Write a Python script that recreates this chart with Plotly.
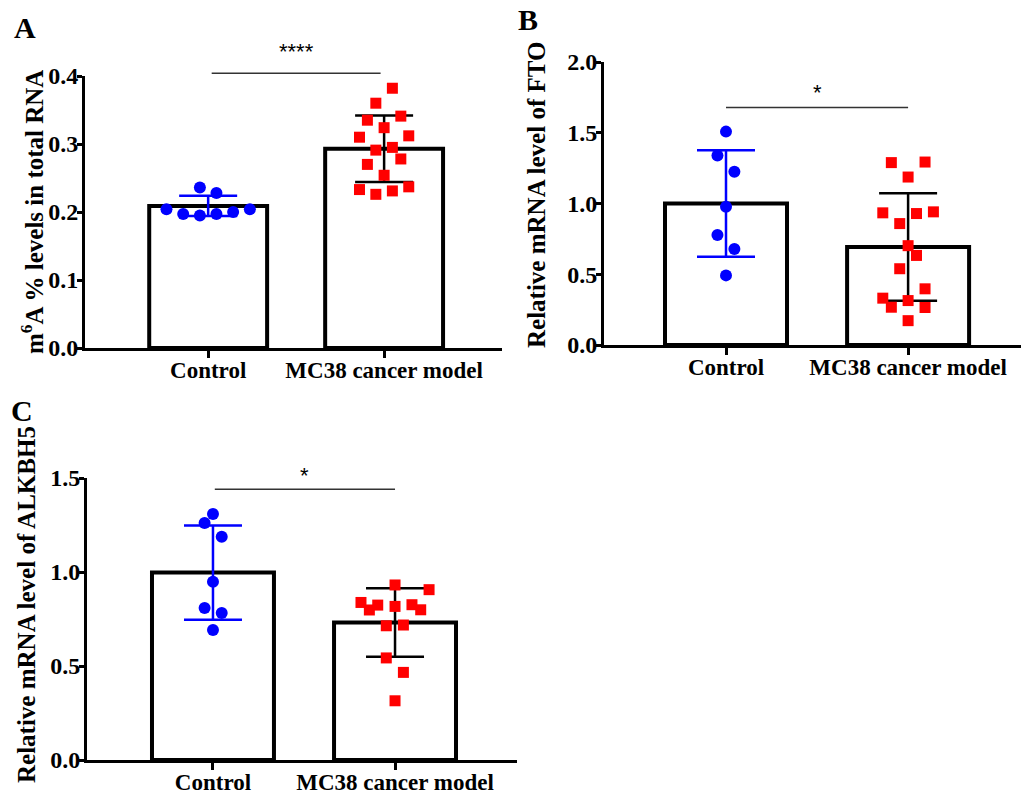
import plotly.graph_objects as go

W, H = 1021, 795
categories = ["Control", "MC38 cancer model"]

# ---------------- Panel A: m6A % levels ----------------
a_means = [0.209, 0.293]
a_sd = [0.015, 0.049]
a_ctrl = [0.236, 0.228, 0.204, 0.204, 0.197, 0.195, 0.197, 0.200]
a_ctrl_jit = [-0.047, 0.047, -0.237, 0.237, -0.142, -0.047, 0.047, 0.142]
a_mc = [0.382, 0.360, 0.335, 0.341, 0.324, 0.310, 0.312, 0.291,
        0.295, 0.270, 0.278, 0.254, 0.233, 0.226, 0.231, 0.237]
a_mc_jit = [0.047, -0.047, -0.095, 0.095, 0.0, -0.14, 0.14, -0.047,
            0.047, -0.095, 0.095, 0.0, -0.14, -0.047, 0.047, 0.14]
a_sig = dict(label="****", x0=0.02, x1=0.98, y=0.404, ytext=0.436)

# ---------------- Panel B: FTO ----------------
b_means = [1.0, 0.693]
b_sd = [0.376, 0.38]
b_ctrl = [1.508, 1.340, 1.225, 0.977, 0.778, 0.679, 0.492]
b_ctrl_jit = [0.0, -0.047, 0.046, 0.0, -0.047, 0.046, 0.0]
b_mc = [1.289, 1.293, 1.187, 0.934, 0.929, 0.941, 0.858, 0.702,
        0.633, 0.539, 0.397, 0.331, 0.314, 0.267, 0.265, 0.172]
b_mc_jit = [-0.092, 0.093, 0.0, -0.139, 0.046, 0.139, -0.046, 0.0,
            0.046, -0.046, 0.093, -0.139, 0.0, -0.092, 0.093, 0.0]
b_sig = dict(label="*", x0=0.0, x1=1.0, y=1.679, ytext=1.785)

# ---------------- Panel C: ALKBH5 ----------------
c_means = [0.997, 0.731]
c_sd = [0.251, 0.182]
c_ctrl = [1.309, 1.261, 1.188, 0.948, 0.809, 0.782, 0.691]
c_ctrl_jit = [0.0, -0.046, 0.048, 0.0, -0.046, 0.048, 0.0]
c_mc = [0.931, 0.906, 0.838, 0.824, 0.798, 0.817, 0.826, 0.799,
        0.714, 0.718, 0.543, 0.466, 0.315]
c_mc_jit = [0.0, 0.187, -0.187, -0.095, -0.141, 0.0, 0.093, 0.141,
            -0.048, 0.046, -0.048, 0.046, 0.0]
c_sig = dict(label="*", x0=0.01, x1=1.0, y=1.44, ytext=1.513)

SERIF = "Liberation Serif, Times New Roman, serif"
BLUE = "#0000FF"
RED = "#FF0000"

fig = go.Figure()


def add_panel(xa, ya, means, sd, ctrl, ctrl_jit, mc, mc_jit):
    fig.add_trace(go.Bar(
        x=[0, 1], y=means, width=0.67, xaxis=xa, yaxis=ya,
        marker=dict(color="white", line=dict(color="black", width=4)),
        showlegend=False, hoverinfo="skip"))
    for i, col in enumerate([BLUE, "black"]):
        fig.add_trace(go.Scatter(
            x=[i], y=[means[i]], mode="markers", xaxis=xa, yaxis=ya,
            marker=dict(opacity=0, size=1),
            error_y=dict(type="data", array=[sd[i]], color=col,
                         thickness=2.5, width=29),
            showlegend=False, hoverinfo="skip"))
    fig.add_trace(go.Scatter(
        x=[0 + j for j in ctrl_jit], y=ctrl, mode="markers",
        xaxis=xa, yaxis=ya,
        marker=dict(color=BLUE, size=12, symbol="circle", line=dict(width=0)),
        showlegend=False))
    fig.add_trace(go.Scatter(
        x=[1 + j for j in mc_jit], y=mc, mode="markers",
        xaxis=xa, yaxis=ya,
        marker=dict(color=RED, size=11, symbol="square", line=dict(width=0)),
        showlegend=False))


add_panel("x", "y", a_means, a_sd, a_ctrl, a_ctrl_jit, a_mc, a_mc_jit)
add_panel("x2", "y2", b_means, b_sd, b_ctrl, b_ctrl_jit, b_mc, b_mc_jit)
add_panel("x3", "y3", c_means, c_sd, c_ctrl, c_ctrl_jit, c_mc, c_mc_jit)

xtickfont = dict(family=SERIF, size=23, color="black", weight="bold")
ytickfont = dict(family=SERIF, size=24, color="black", weight="bold")


def xaxis_cfg(px0, px1, rng, anchor):
    return dict(domain=[px0 / W, px1 / W], range=rng, anchor=anchor,
                tickvals=[0, 1], ticktext=categories, automargin=False,
                showline=True, linewidth=3, linecolor="black",
                ticks="outside", ticklen=7, tickwidth=3, tickcolor="black",
                ticklabelstandoff=-8,
                showgrid=False, zeroline=False, tickfont=xtickfont)


def yaxis_cfg(py_bottom, py_top, rng, dtick, anchor):
    return dict(domain=[1 - py_bottom / H, 1 - py_top / H], range=rng,
                anchor=anchor, dtick=dtick, tick0=0, tickformat=".1f",
                automargin=False,
                showline=True, linewidth=3, linecolor="black",
                ticks="outside", ticklen=5, tickwidth=3, tickcolor="black",
                ticklabelstandoff=-6,
                showgrid=False, zeroline=False, tickfont=ytickfont)


layout_axes = dict(
    xaxis=xaxis_cfg(85, 502, [-0.7, 1.67], "y"),
    yaxis=yaxis_cfg(348, 76, [0, 0.4], 0.1, "x"),
    xaxis2=xaxis_cfg(604, 1021, [-0.67, 1.62], "y2"),
    yaxis2=yaxis_cfg(345, 62, [0, 2.0], 0.5, "x2"),
    xaxis3=xaxis_cfg(87, 517, [-0.692, 1.67], "y3"),
    yaxis3=yaxis_cfg(760, 478, [0, 1.5], 0.5, "x3"),
)

fig.update_layout(
    template="none",
    width=W, height=H, margin=dict(l=0, r=0, t=0, b=0, autoexpand=False),
    plot_bgcolor="white", paper_bgcolor="white",
    **layout_axes,
)


def to_paper(val, ax):
    d0, d1 = ax["domain"]
    r0, r1 = ax["range"]
    return d0 + (val - r0) / (r1 - r0) * (d1 - d0)


# significance brackets (mapped from data values into paper space so they are not clipped)
for sig, xk, yk in [(a_sig, "xaxis", "yaxis"), (b_sig, "xaxis2", "yaxis2"),
                    (c_sig, "xaxis3", "yaxis3")]:
    xa, ya = layout_axes[xk], layout_axes[yk]
    fig.add_shape(type="line", xref="paper", yref="paper",
                  x0=to_paper(sig["x0"], xa), x1=to_paper(sig["x1"], xa),
                  y0=to_paper(sig["y"], ya), y1=to_paper(sig["y"], ya),
                  line=dict(color="#333333", width=1.5))
    fig.add_annotation(xref="paper", yref="paper",
                       x=to_paper(0.5, xa), y=to_paper(sig["ytext"], ya),
                       text=sig["label"], showarrow=False,
                       xanchor="center", yanchor="middle",
                       font=dict(family="Liberation Sans, Arial", size=22, color="black"))

# axis titles
titles = [
    ("m<sup>6</sup>A % levels in total RNA", 32, 212),
    ("Relative mRNA level of FTO", 537, 195),
    ("Relative mRNA level of ALKBH5", 26, 605),
]
for text, px, py in titles:
    fig.add_annotation(xref="paper", yref="paper", x=px / W, y=1 - py / H,
                       text=text, textangle=-90, showarrow=False,
                       xanchor="center", yanchor="middle",
                       font=dict(family=SERIF, size=25, color="black", weight="bold"))

# panel letters
for letter, px, py in [("A", 25, 28), ("B", 528, 20), ("C", 22, 410)]:
    fig.add_annotation(xref="paper", yref="paper", x=px / W, y=1 - py / H,
                       text=letter, showarrow=False, xanchor="center", yanchor="middle",
                       font=dict(family=SERIF, size=30, color="black", weight="bold"))

fig.write_html("out.html")
